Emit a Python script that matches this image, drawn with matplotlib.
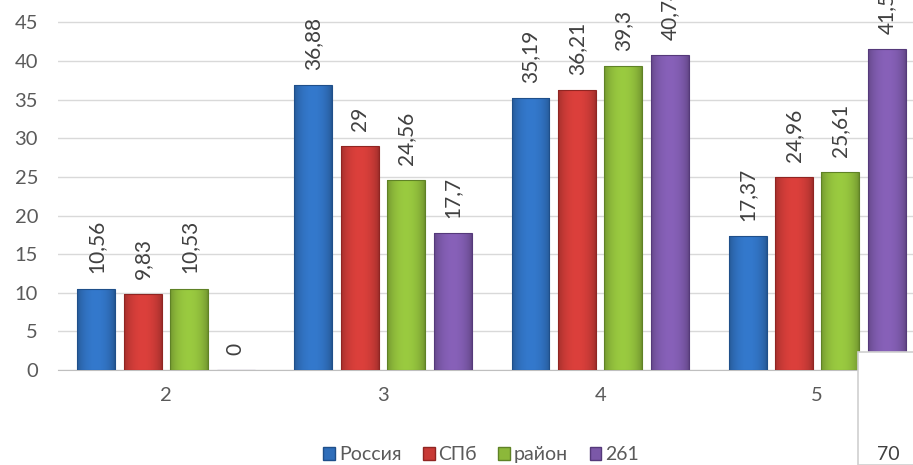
import matplotlib
matplotlib.use('Agg')
import matplotlib.pyplot as plt
from matplotlib.patches import Rectangle
from matplotlib.colors import to_rgb
import numpy as np

plt.rcParams['font.family'] = ['Lato', 'DejaVu Sans']

categories = ['2', '3', '4', '5']
series_names = ['Россия', 'СПб', 'район', '261']
russia = [10.56, 36.88, 35.19, 17.37]
spb = [9.83, 29, 36.21, 24.96]
raion = [10.53, 24.56, 39.3, 25.61]
school = [0, 17.7, 40.74, 41.5]

colors = ['#2F6EBA', '#C83A36', '#8CB83A', '#7B58A8']
edges = ['#1F4F8A', '#902522', '#5F8226', '#55397A']
text_col = '#5A5A5A'


def shade_bar(ax, rect, color):
    # horizontal gradient inside the bar for a slight bevel look
    h = rect.get_height()
    if h <= 0:
        return
    base = np.array(to_rgb(color))
    t = np.linspace(0, 1, 64)
    k = 0.78 + 0.32 * np.sin(np.pi * t) ** 0.6
    img = np.clip(base[None, :] * k[:, None], 0, 1)[None, :, :]
    x0 = rect.get_x()
    im = ax.imshow(img, extent=(x0, x0 + rect.get_width(), 0, h),
                   aspect='auto', zorder=3, interpolation='bilinear')
    im.set_clip_path(rect)


fig = plt.figure(figsize=(9.13, 4.65), dpi=100)
ax = fig.add_axes([0.063, 0.204, 0.951, 0.798])

x = np.arange(len(categories))
step = 0.214
width = 0.175
for i, (name, vals) in enumerate(zip(series_names, [russia, spb, raion, school])):
    pos = x + (i - 1.5) * step
    bars = ax.bar(pos, vals, width, color=colors[i], edgecolor=edges[i], linewidth=0.8,
                  label=name, zorder=3)
    for r in bars:
        shade_bar(ax, r, colors[i])
        r.set_zorder(4)
        r.set_facecolor('none')
    for p, v in zip(pos, vals):
        lbl = f"{v:g}".replace('.', ',')
        ax.annotate(lbl, (p, v), xytext=(0, 11), textcoords='offset points',
                    rotation=90, ha='center', va='bottom', fontsize=15,
                    color='#404040', annotation_clip=False, clip_on=False)

ax.set_xlim(-0.5, 3.5)
ax.set_ylim(0, 48)
ax.set_yticks(range(0, 46, 5))
ax.set_xticks(x)
ax.set_xticklabels(categories)
ax.grid(axis='y', color='#D9D9D9', linewidth=1, zorder=0)
for s in ['top', 'right', 'left']:
    ax.spines[s].set_visible(False)
ax.spines['bottom'].set_color('#BFBFBF')
ax.tick_params(axis='both', length=0, labelsize=14.5, colors=text_col)
ax.tick_params(axis='x', pad=12)
ax.tick_params(axis='y', pad=14)

handles = [Rectangle((0, 0), 1, 1, facecolor=c, edgecolor=e) for c, e in zip(colors, edges)]
leg = fig.legend(handles, series_names, loc='center', bbox_to_anchor=(0.527, 0.022), ncol=4,
                 frameon=False, fontsize=14, handlelength=0.6, handleheight=0.6,
                 handletextpad=0.2, columnspacing=1.1)
for t in leg.get_texts():
    t.set_color(text_col)

# white overlay box in the lower right corner
fig.patches.append(Rectangle((0.94, 0.0), 0.07, 0.243, transform=fig.transFigure,
                             facecolor='white', edgecolor='#D0D0D0', linewidth=1.2,
                             zorder=10))
fig.text(0.973, 0.022, '70', ha='center', va='center', fontsize=14,
         color='#404040', zorder=11)

fig.savefig('out.png', dpi=100)
